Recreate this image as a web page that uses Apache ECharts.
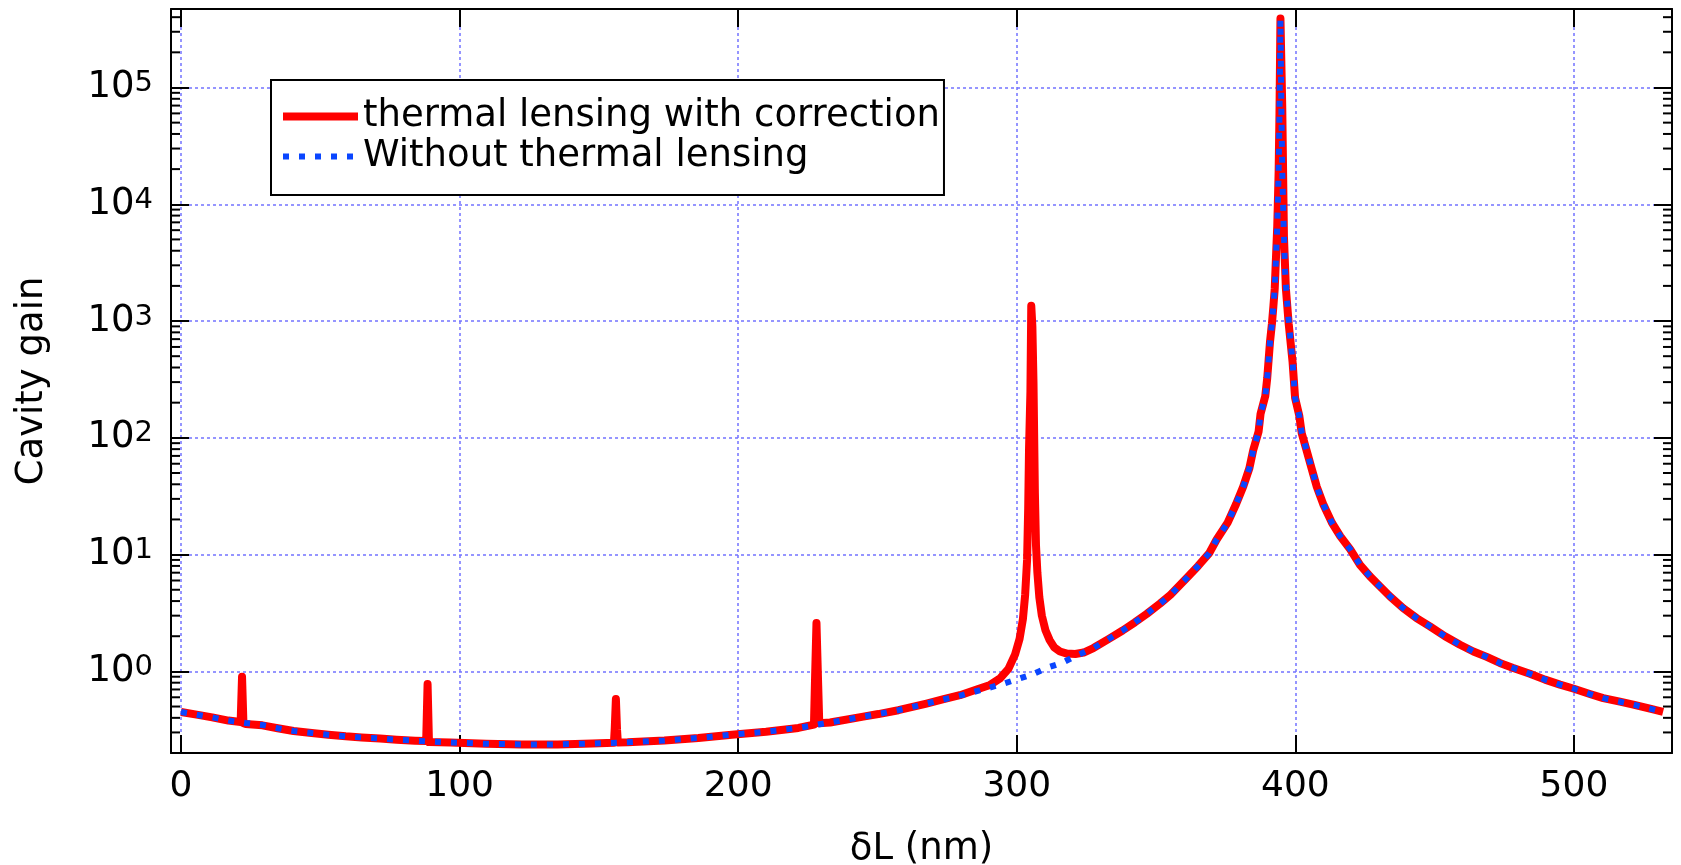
<!DOCTYPE html>
<html><head><meta charset="utf-8">
<script src="https://cdn.jsdelivr.net/npm/echarts@6/dist/echarts.min.js"></script>
<style>html,body{margin:0;padding:0;background:#fff}#c{width:1681px;height:865px}</style>
</head><body><div id="c"></div>
<script>
// ---- data ----
const xTickValues = [0, 100, 200, 300, 400, 500];
const minorMantissas = [2, 3, 4, 5, 6, 7, 8, 9];
const minorDecades = [0.1, 1, 10, 100, 1000, 10000, 100000];

const blueX = [0,5.6,11.2,17,23.2,29.2,34.7,40.4,46.9,52.9,59.1,64.8,71.4,77.4,84,96.6,109.5,122.3,135.2,147.6,160.3,173.5,185.7,197.7,210,221.6,233,244.9,250.3,257.5,267.6,273.4,279.6,284.6,289.8,294.9,301.1,305.9,310.7,316.5,321.3,327.5,332.9,338,342.4,346.6,351.4,355.2,361,365.1,369.1,371.7,375.7,378.7,381.3,383.5,384.9,386.8,387.5,389.2,389.9,390.4,390.9,391.6,392.1,392.6,393.0,393.5,394.0,394.3,394.5,394.65,394.8,395.0,395.3,395.8,396.3,397.0,397.8,399.0,399.9,401.4,402.3,404.1,405.9,407.7,410.1,413.1,416.1,419.7,423.2,426.8,430.4,434,438.7,443.5,448.3,453.7,459.1,463.9,468.7,473.4,478.2,484.2,489.6,495,500,505.7,510.5,516.5,521.3,527.3,532];
const blueY = [0.449,0.426,0.404,0.379,0.361,0.348,0.326,0.309,0.297,0.287,0.278,0.272,0.266,0.260,0.255,0.246,0.240,0.237,0.237,0.241,0.247,0.256,0.269,0.287,0.304,0.328,0.365,0.41,0.431,0.465,0.53,0.573,0.62,0.667,0.721,0.78,0.871,0.95,1.07,1.19,1.36,1.585,1.89,2.24,2.63,3.1,3.8,4.53,6.3,8.0,10.3,13.4,18.8,27,38.3,55,79,113,160,228,324,464,665,955,1325,1900,3300,6500,19000,60000,160000,380000,160000,60000,19000,6500,2700,1500,904,447,220,155,109,77,54,38,26.7,18.8,14.4,11.1,8.18,6.5,5.33,4.38,3.48,2.86,2.43,2.0,1.69,1.48,1.33,1.18,1.07,0.955,0.85,0.77,0.71,0.64,0.59,0.55,0.52,0.48,0.45];

const redX = [0,5.6,11.2,17,21.4,21.9,22.4,23.2,29.2,34.7,40.4,46.9,52.9,59.1,64.8,71.4,77.4,84,88.0,88.5,89.0,96.6,109.5,122.3,135.2,147.6,155.4,155.7,156.1,156.5,156.8,160.3,173.5,185.7,197.7,210,221.6,227.2,227.6,228.1,228.6,229.1,233,244.9,250.3,257.5,267.6,273.4,279.6,285.6,290.4,294.0,297.0,299.4,301.0,302.2,303.0,303.7,304.1,304.4,304.9,305.2,305.6,306.0,306.5,306.9,307.4,308.1,309.0,310.3,311.8,313.5,315.5,318,321,324,327.5,332.9,338,342.4,346.6,351.4,355.2,361,365.1,369.1,371.7,375.7,378.7,381.3,383.5,384.9,386.8,387.5,389.2,389.9,390.4,390.9,391.6,392.1,392.6,393.0,393.5,394.0,394.3,394.65,395.3,395.9,396.6,397.6,399.0,399.9,401.4,402.3,404.1,405.9,407.7,410.1,413.1,416.1,419.7,423.2,426.8,430.4,434,438.7,443.5,448.3,453.7,459.1,463.9,468.7,473.4,478.2,484.2,489.6,495,500,505.7,510.5,516.5,521.3,527.3,532];
const redY = [0.449,0.426,0.404,0.379,0.368,0.90,0.36,0.355,0.345,0.326,0.309,0.297,0.287,0.278,0.272,0.266,0.260,0.255,0.253,0.78,0.248,0.246,0.240,0.237,0.237,0.241,0.245,0.33,0.58,0.32,0.246,0.247,0.256,0.269,0.287,0.304,0.328,0.35,0.9,2.6,0.95,0.36,0.365,0.41,0.431,0.465,0.53,0.575,0.625,0.70,0.765,0.87,1.05,1.4,1.9,2.8,4.5,9,25,80,250,1350,900,300,34,12,7,4.3,3.0,2.25,1.85,1.6,1.48,1.42,1.41,1.45,1.585,1.89,2.24,2.63,3.1,3.8,4.53,6.3,8.0,10.3,13.4,18.8,27,38.3,55,79,113,160,228,324,464,665,955,1325,1900,3300,6500,19000,60000,390000,67000,5300,1900,950,447,220,155,109,77,54,38,26.7,18.8,14.4,11.1,8.18,6.5,5.33,4.38,3.48,2.86,2.43,2.0,1.69,1.48,1.33,1.18,1.07,0.955,0.85,0.77,0.71,0.64,0.59,0.55,0.52,0.48,0.45];

const redName = 'thermal lensing with correction';
const blueName = 'Without thermal lensing';

// ---- build ----
const FONT = 'DejaVu Sans';
const X_MIN = -3.6, X_MAX = 535.2, Y_MIN = 0.2, Y_MAX = 4.7e5;
const zip = (a, b) => a.map((v, i) => [v, b[i]]);
const minorTicks = [];
minorDecades.forEach(d => minorMantissas.forEach(m => {
  const v = m * d;
  if (v > Y_MIN && v < Y_MAX) minorTicks.push([0, v]);
}));

const gridLine = { show: true, lineStyle: { color: '#7373ff', width: 1.5, type: [3, 3] } };
const tickStyle = { inside: true, length: 18, lineStyle: { color: '#000', width: 2 } };
const lineAxis = { show: true, onZero: false, lineStyle: { color: '#000', width: 2 } };

const yLabelFmt = v => {
  const l = Math.log10(v);
  const e = Math.round(l);
  if (Math.abs(l - e) > 1e-6) return '';
  return '{b|10}{s|' + e + '}';
};

const chart = echarts.init(document.getElementById('c'), null, { renderer: 'canvas' });
chart.setOption({
  animation: false,
  backgroundColor: '#fff',
  grid: { left: 171, right: 9, top: 9, bottom: 112, containLabel: false, outerBoundsMode: 'none' },
  legend: {
    data: [redName, blueName],
    orient: 'vertical',
    left: 271, top: 80,
    padding: [18, 4, 20, 8],
    itemGap: 3,
    itemWidth: 75, itemHeight: 14,
    backgroundColor: '#fff',
    borderColor: '#000', borderWidth: 2, borderRadius: 0,
    selectedMode: false,
    itemStyle: { opacity: 0, borderWidth: 0 },
    lineStyle: { width: 'inherit' },
    textStyle: { fontFamily: FONT, fontSize: 37, lineHeight: 37, color: '#000', padding: [0, 0, 0, 0] }
  },
  xAxis: [{
    type: 'value', min: X_MIN, max: X_MAX,
    name: 'δL (nm)', nameLocation: 'middle', nameGap: 78,
    nameTextStyle: { fontFamily: FONT, fontSize: 37, color: '#000' },
    axisLine: lineAxis,
    axisTick: Object.assign({ customValues: xTickValues }, tickStyle),
    axisLabel: { customValues: xTickValues, fontFamily: FONT, fontSize: 36, color: '#000', margin: 16 },
    splitLine: gridLine
  }, {
    type: 'value', min: X_MIN, max: X_MAX, position: 'top',
    axisLine: lineAxis,
    axisTick: Object.assign({ customValues: xTickValues }, tickStyle),
    axisLabel: { show: false },
    splitLine: { show: false }
  }],
  yAxis: [{
    type: 'log', logBase: 10, min: Y_MIN, max: Y_MAX,
    name: 'Cavity gain', nameLocation: 'middle', nameGap: 120, nameRotate: 90,
    nameTextStyle: { fontFamily: FONT, fontSize: 37, color: '#000' },
    axisLine: lineAxis,
    axisTick: tickStyle,
    axisLabel: {
      formatter: yLabelFmt, margin: 18, showMinLabel: false, showMaxLabel: false,
      rich: {
        b: { fontFamily: FONT, fontSize: 37, lineHeight: 37, color: '#000', padding: [24, 0, 0, 0], verticalAlign: 'bottom' },
        s: { fontFamily: FONT, fontSize: 29, lineHeight: 29, color: '#000', verticalAlign: 'top' }
      }
    },
    splitLine: gridLine
  }, {
    type: 'log', logBase: 10, min: Y_MIN, max: Y_MAX, position: 'right',
    axisLine: lineAxis,
    axisTick: tickStyle,
    axisLabel: { show: false },
    splitLine: { show: false }
  }],
  series: [
    {
      name: redName, type: 'line', xAxisIndex: 0, yAxisIndex: 0,
      data: zip(redX, redY), symbol: 'none', showSymbol: false, silent: true,
      lineStyle: { color: '#ff0000', width: 8, cap: 'butt', join: 'round' },
      itemStyle: { color: '#ff0000' }, emphasis: { disabled: true }, z: 3
    },
    {
      name: blueName, type: 'line', xAxisIndex: 0, yAxisIndex: 0,
      data: zip(blueX, blueY), symbol: 'none', showSymbol: false, silent: true,
      lineStyle: { color: '#0a46ff', width: 6, type: [6, 10], cap: 'butt' },
      itemStyle: { color: '#0a46ff' }, emphasis: { disabled: true }, z: 4
    },
    {
      name: 'minorTicks', type: 'custom', xAxisIndex: 0, yAxisIndex: 0,
      data: minorTicks, silent: true, z: 5,
      renderItem: (params, api) => {
        const y = api.coord([0, api.value(1)])[1];
        const cs = params.coordSys;
        const st = { stroke: '#000', lineWidth: 2 };
        return { type: 'group', children: [
          { type: 'line', shape: { x1: cs.x, y1: y, x2: cs.x + 9, y2: y }, style: st },
          { type: 'line', shape: { x1: cs.x + cs.width - 9, y1: y, x2: cs.x + cs.width, y2: y }, style: st }
        ]};
      }
    }
  ]
});
</script>
</body></html>
